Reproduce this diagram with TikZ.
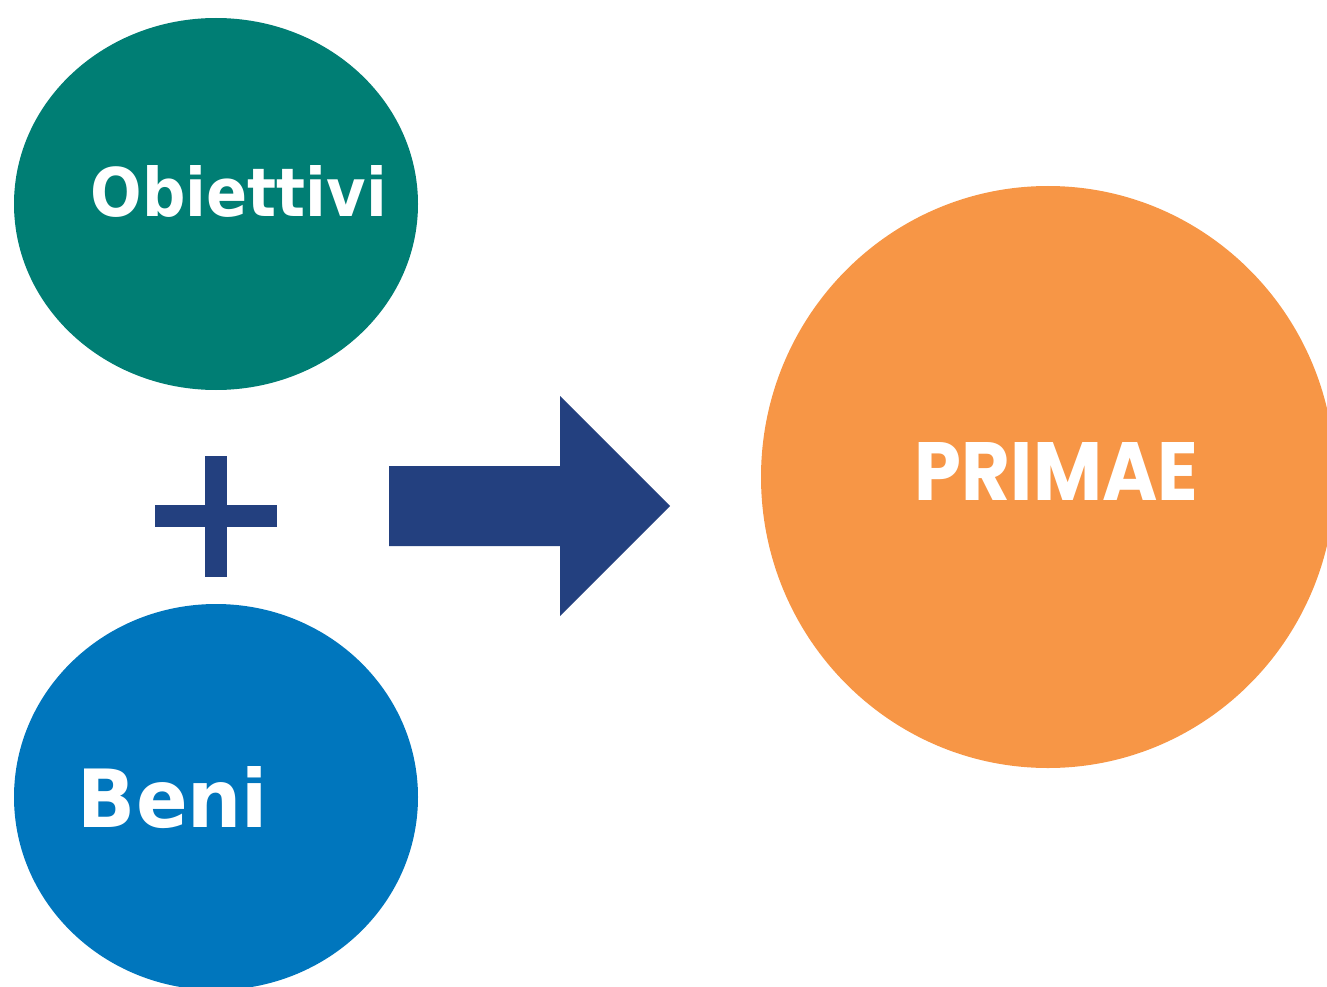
\documentclass[tikz,border=0pt]{standalone}
\usepackage{fontspec}
\usepackage{graphicx}
\setmainfont{DejaVu Sans}
\newfontfamily\geofont{Poppins}
\usetikzlibrary{shapes.geometric}
\definecolor{tealc}{RGB}{0,126,116}
\definecolor{bluec}{RGB}{0,118,189}
\definecolor{orangec}{RGB}{247,150,70}
\definecolor{navyc}{RGB}{35,64,127}
\tikzset{
  blob/.style={ellipse, draw=none, inner sep=0pt},
  lbl/.style={text=white, inner sep=0pt, font=\bfseries},
  mark shape/.style={fill=navyc, draw=none}
}
\begin{document}
\begin{tikzpicture}[x=1pt,y=-1pt]
\useasboundingbox (0,0) rectangle (1327,987);
\node[blob, fill=tealc, minimum width=404pt, minimum height=372pt] (obj) at (216,204) {};
\node[blob, fill=bluec, minimum width=404pt, minimum height=386pt] (beni) at (216,797) {};
\node[blob, fill=orangec, minimum width=574pt, minimum height=582pt] (primae) at (1048,477) {};
\node[lbl] (tobj) at (239,191.5) {\resizebox{296pt}{51pt}{Obiettivi}};
\node[lbl] (tbeni) at (173,797.5) {\resizebox{190pt}{61pt}{Beni}};
\node[lbl] (tprimae) at (1056.5,471) {\resizebox{283pt}{58pt}{\geofont\bfseries PRIMAE}};
% plus sign
\fill[mark shape] (155,505) rectangle (277,527);
\fill[mark shape] (205,456) rectangle (227,577);
% arrow
\fill[mark shape] (389,466) -- (560,466) -- (560,396) -- (670,506) -- (560,616) -- (560,546) -- (389,546) -- cycle;
\end{tikzpicture}
\end{document}
